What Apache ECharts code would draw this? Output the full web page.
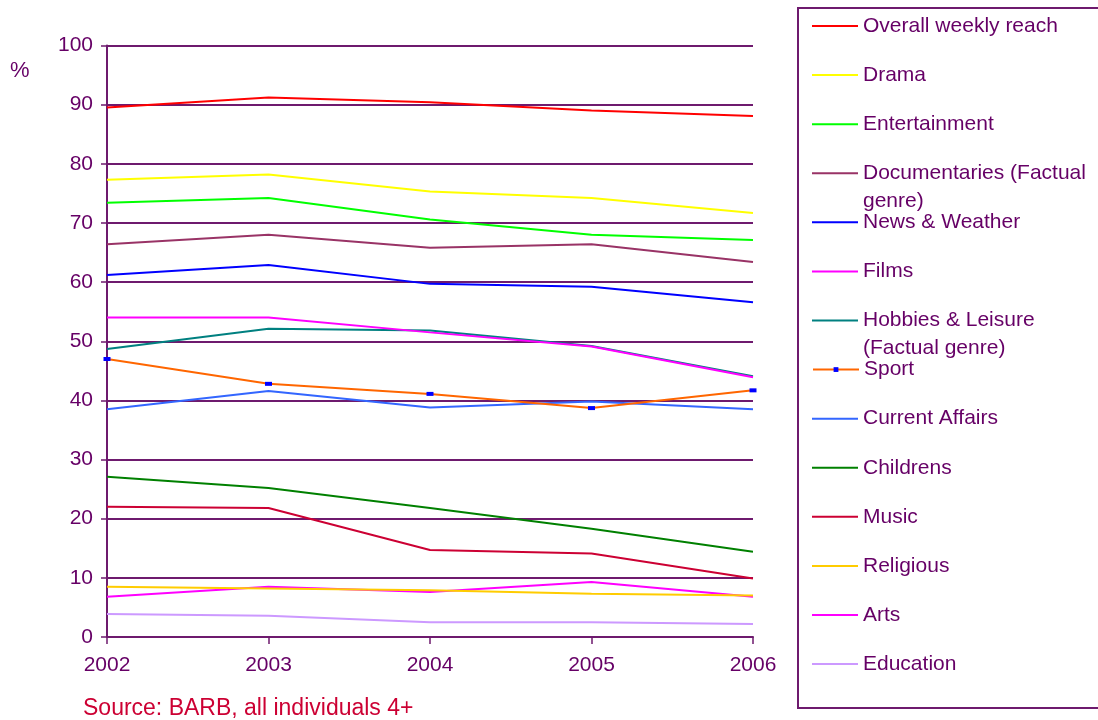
<!DOCTYPE html>
<html>
<head>
<meta charset="utf-8">
<title>Weekly reach by genre</title>
<script src="https://cdn.jsdelivr.net/npm/echarts@6/dist/echarts.min.js"></script>
<style>
  html, body { margin: 0; padding: 0; background: #ffffff; }
  #chart { width: 1098px; height: 720px; }
</style>
</head>
<body>
<div id="chart"></div>
<script>
// Weekly reach (%) by programme genre, 2002-2006
const years = ['2002', '2003', '2004', '2005', '2006'];
const yTicks = { min: 0, max: 100, interval: 10 };

const overall        = [89.5, 91.2, 90.4, 89.0, 88.1];
const drama          = [77.3, 78.2, 75.3, 74.2, 71.7];
const entertainment  = [73.4, 74.2, 70.6, 68.0, 67.1];
const documentaries  = [66.4, 68.0, 65.8, 66.4, 63.4];
const newsWeather    = [61.2, 62.9, 59.7, 59.2, 56.6];
const films          = [54.0, 54.0, 51.5, 49.1, 43.9];
const hobbies        = [48.7, 52.1, 51.8, 49.2, 44.1];
const sport          = [47.0, 42.8, 41.1, 38.7, 41.7];
const currentAffairs = [38.5, 41.6, 38.8, 39.8, 38.5];
const childrens      = [27.1, 25.2, 21.8, 18.3, 14.4];
const music          = [22.0, 21.8, 14.7, 14.1, 9.9];
const religious      = [8.5, 8.2, 7.9, 7.3, 7.0];
const arts           = [6.8, 8.5, 7.6, 9.3, 6.8];
const education      = [3.9, 3.6, 2.5, 2.5, 2.2];

const seriesNames = [
  'Overall weekly reach', 'Drama', 'Entertainment', 'Documentaries (Factual genre)',
  'News & Weather', 'Films', 'Hobbies & Leisure (Factual genre)', 'Sport',
  'Current Affairs', 'Childrens', 'Music', 'Religious', 'Arts', 'Education'
];
const seriesValues = [
  overall, drama, entertainment, documentaries, newsWeather, films, hobbies, sport,
  currentAffairs, childrens, music, religious, arts, education
];
const seriesColors = [
  '#FF0000', '#FFFF00', '#00FF00', '#993366', '#0000FF', '#FF00FF', '#008080', '#FF6600',
  '#3366FF', '#008000', '#CC0033', '#FFCC00', '#FF00FF', '#CC99FF'
];
// legend labels wrap the same way the boxed key does
const legendLabels = {
  'Documentaries (Factual genre)': ['Documentaries (Factual', 'genre)'],
  'Hobbies & Leisure (Factual genre)': ['Hobbies & Leisure', '(Factual genre)']
};

const PURPLE = '#6E1A6E';
const TEXT = '#660066';
const FONT = '"Liberation Sans", Arial, sans-serif';
const LEGEND_FONT = 21;

const series = seriesNames.map((name, i) => {
  const isSport = name === 'Sport';
  return {
    name: name,
    type: 'line',
    data: seriesValues[i],
    symbol: isSport ? 'rect' : 'none',
    symbolSize: isSport ? [7, 4] : 0,
    showSymbol: isSport,
    lineStyle: { color: seriesColors[i], width: 2 },
    itemStyle: { color: isSport ? '#0000FF' : seriesColors[i] },
    emphasis: { disabled: true },
    z: 20 - i
  };
});

// one key row per series; every row has the same three-line text box so
// the swatch sits level with the first line of text
const legends = seriesNames.map((name, i) => {
  const isSport = name === 'Sport';
  return {
    show: true,
    orient: 'vertical',
    left: 812,
    top: 23 + i * 49.08 - 35,
    padding: 0,
    itemWidth: 46,
    itemHeight: isSport ? 6 : 2,
    itemGap: 0,
    icon: isSport ? undefined : 'rect',
    data: [name],
    formatter: function (n) {
      const parts = legendLabels[n];
      if (parts) return '{sp| }\n{main|' + parts[0] + '}\n{sub|' + parts[1] + '}';
      return '{sp| }\n{main|' + n + '}\n{sp| }';
    },
    textStyle: {
      color: TEXT,
      fontFamily: FONT,
      fontSize: LEGEND_FONT,
      rich: {
        sp:   { lineHeight: 33, fontSize: LEGEND_FONT, fontFamily: FONT, color: TEXT },
        main: { lineHeight: 22, fontSize: LEGEND_FONT, fontFamily: FONT, color: TEXT },
        sub:  { lineHeight: 33, fontSize: LEGEND_FONT, fontFamily: FONT, color: TEXT }
      }
    }
  };
});

const chart = echarts.init(document.getElementById('chart'), null, { renderer: 'canvas' });
chart.setOption({
  backgroundColor: '#ffffff',
  animation: false,
  title: [
    { text: '%', left: 5, top: 55, textStyle: { color: TEXT, fontFamily: FONT, fontSize: 22, fontWeight: 'normal' } },
    { text: 'Source: BARB, all individuals 4+', left: 78, top: 692,
      textStyle: { color: '#CC0033', fontFamily: FONT, fontSize: 23, fontWeight: 'normal' } }
  ],
  legend: legends,
  graphic: [{
    type: 'rect',
    shape: { x: 798, y: 8, width: 320, height: 700 },
    style: { fill: 'none', stroke: PURPLE, lineWidth: 2 },
    silent: true
  }],
  grid: { left: 107, right: 345, top: 45.5, bottom: 83, containLabel: false },
  xAxis: {
    type: 'category',
    data: years,
    boundaryGap: false,
    axisLine: { show: true, lineStyle: { color: PURPLE, width: 2 } },
    axisTick: { show: true, length: 7, lineStyle: { color: PURPLE, width: 1.5 } },
    axisLabel: { color: TEXT, fontFamily: FONT, fontSize: 21, margin: 18 },
    splitLine: { show: false }
  },
  yAxis: {
    type: 'value',
    min: yTicks.min,
    max: yTicks.max,
    interval: yTicks.interval,
    axisLine: { show: true, lineStyle: { color: PURPLE, width: 2 } },
    axisTick: { show: true, length: 6, lineStyle: { color: PURPLE, width: 1.5 } },
    axisLabel: { color: TEXT, fontFamily: FONT, fontSize: 21, margin: 14 },
    splitLine: { show: true, lineStyle: { color: PURPLE, width: 2 } }
  },
  series: series
});
</script>
</body>
</html>
